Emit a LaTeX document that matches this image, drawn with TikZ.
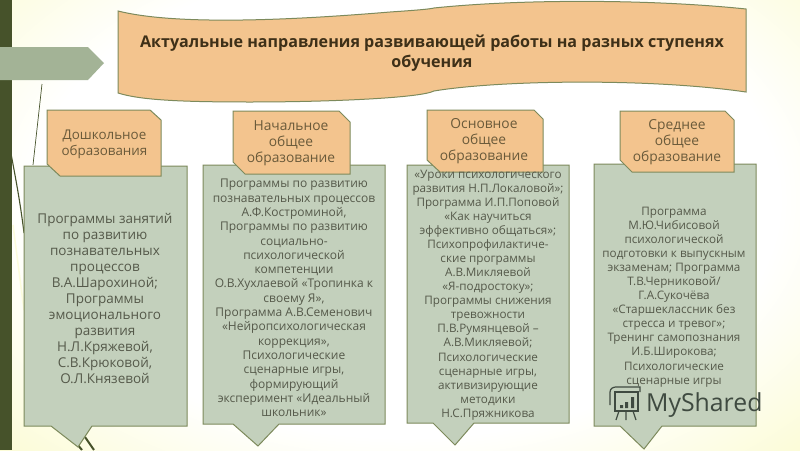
\documentclass[tikz,border=0pt]{standalone}
\usepackage{fontspec}
\setmainfont{Open Sans}
\newfontfamily\wmfont{Open Sans}
\usetikzlibrary{shadings}
\definecolor{stripe}{HTML}{46522A}
\definecolor{peach}{HTML}{F3C48E}
\definecolor{sage}{HTML}{C3D0BC}
\definecolor{edge}{HTML}{7D8A5C}
\definecolor{ink}{HTML}{55594A}
\definecolor{head}{HTML}{6A5A3A}
\definecolor{titlec}{HTML}{3E3018}
\definecolor{bgy}{HTML}{F8F8A8}
\definecolor{arrowg}{HTML}{A3B396}
\definecolor{wmc}{HTML}{3F4A40}
\pgfdeclareradialshading{bgshade}{\pgfpoint{0bp}{0bp}}{color(0bp)=(white);color(22bp)=(white);color(46bp)=(bgy);color(100bp)=(bgy)}
\tikzset{
 x=1pt,y=-1pt,
 tab/.style={draw=edge,line width=1pt,fill=peach},
 panel/.style={draw=edge,line width=1pt,fill=sage},
 tabtext/.style={text=head,font=\fontsize{13.8}{16}\selectfont,align=center,inner sep=0},
 bodytext/.style={text=ink,font=\fontsize{12}{14.3}\selectfont,align=center,inner sep=0},
}
\begin{document}
\begin{tikzpicture}
\useasboundingbox (0,0) rectangle (800,450);
% background
\shade[shading=bgshade] (-20,-70) rectangle (830,470);
\fill[stripe] (0,0) rectangle (12,450);
\draw[stripe,line width=0.7pt] (42,84) -- (33,165);
\draw[stripe,line width=1.1pt] (9,143) .. controls (15,175) and (20,200) .. (24,233);
\draw[white!60!bgy,line width=1.5pt] (13,225) -- (24,310);
\draw[stripe,line width=2pt] (85,437) -- (94,450);
\draw[stripe,line width=2pt] (77,444) -- (82,450);
% left arrow
\fill[arrowg] (0,47) -- (88,47) -- (104,63) -- (88,80) -- (0,80) -- cycle;
% title banner
\draw[tab] (118,11) .. controls (170,24) and (270,22) .. (390,12) .. controls (420,10) and (430,9) .. (434,8)
  .. controls (520,-1) and (650,-1) .. (746,9) -- (746,92)
  .. controls (650,78) and (500,80) .. (434,91) .. controls (420,98) and (330,102) .. (250,102)
  .. controls (180,102) and (140,100) .. (118,93) -- cycle;
\node[text=titlec,font=\bfseries\fontsize{16.1}{20}\selectfont,align=center,inner sep=0] (title) at (432,53)
  {Актуальные направления развивающей работы на разных ступенях\\обучения};
% panels
\draw[panel] (24,166) -- (187,166) -- (187,426) -- (92,426) -- (78,447) -- (51,426) -- (24,426) -- cycle;
\draw[panel] (203,165) -- (385,165) -- (385,424) -- (279,424) -- (258,446) -- (233,424) -- (203,424) -- cycle;
\draw[panel] (407,165) -- (569,165) -- (569,423) -- (474,423) -- (455,445) -- (433,423) -- (407,423) -- cycle;
\draw[panel] (594,164) -- (756,164) -- (756,426) -- (662,426) -- (644,449) -- (620,426) -- (594,426) -- cycle;
% tabs
\draw[tab] (47,110) -- (150,110) -- (161,120) -- (161,176) -- (60,176) -- (47,164) -- cycle;
\draw[tab] (233,111) -- (339,111) -- (350,122) -- (350,174) -- (245,174) -- (233,162) -- cycle;
\draw[tab] (427,110) -- (534,110) -- (543,119) -- (543,172) -- (440,172) -- (427,160) -- cycle;
\draw[tab] (620,111) -- (725,111) -- (734,120) -- (734,172) -- (632,172) -- (620,160) -- cycle;
\node[tabtext,font=\fontsize{13.4}{16}\selectfont] (t1) at (104.5,144.5) {Дошкольное\\образования};
\node[tabtext] (t2) at (291,143.5) {Начальное\\общее\\образование};
\node[tabtext] (t3) at (484,141.5) {Основное\\общее\\образование};
\node[tabtext] (t4) at (677,142.5) {Среднее\\общее\\образование};
% body
\node[bodytext,font=\fontsize{13.5}{16}\selectfont] (b1) at (105,298.5) {Программы занятий\\по развитию\\познавательных\\процессов\\В.А.Шарохиной;\\Программы\\эмоционального\\развития\\Н.Л.Кряжевой,\\С.В.Крюковой,\\О.Л.Князевой};
\node[bodytext] (b2) at (294,298) {Программы по развитию\\познавательных процессов\\А.Ф.Костроминой,\\Программы по развитию\\социально-\\психологической\\компетенции\\О.В.Хухлаевой «Тропинка к\\своему Я»,\\Программа А.В.Семенович\\«Нейропсихологическая\\коррекция»,\\Психологические\\сценарные игры,\\формирующий\\эксперимент «Идеальный\\школьник»};
\node[bodytext,font=\fontsize{11.7}{14.05}\selectfont] (b3) at (488,295) {«Уроки психологического\\развития Н.П.Локаловой»;\\Программа И.П.Поповой\\«Как научиться\\эффективно общаться»;\\Психопрофилактиче-\\ские программы\\А.В.Микляевой\\«Я-подростоку»;\\Программы снижения\\тревожности\\П.В.Румянцевой –\\А.В.Микляевой;\\Психологические\\сценарные игры,\\активизирующие\\методики\\Н.С.Пряжникова};
\node[bodytext,font=\fontsize{11.7}{14.05}\selectfont] (b4) at (674,297) {Программа\\М.Ю.Чибисовой\\психологической\\подготовки к выпускным\\экзаменам; Программа\\Т.В.Черниковой/\\Г.А.Сукочёва\\«Старшеклассник без\\стресса и тревог»;\\Тренинг самопознания\\И.Б.Широкова;\\Психологические\\сценарные игры};
% watermark
\node[text=wmc,font=\wmfont\fontsize{24.8}{25}\selectfont,inner sep=0,anchor=west] (wm) at (646,405) {MyShared};
\draw[wmc,line width=1.8pt] (615,392) rectangle (638,411);
\draw[wmc,line width=1.2pt] (610,405) -- (610,392) .. controls (610,388) and (614,387) .. (616,387) -- (640,387) -- (640,392)
 (619,411) -- (616,420) (633,411) -- (636,420) (626,411) -- (626,420);
\fill[wmc] (620,405) rectangle (623,408) (625,402) rectangle (628,408) (631,397) rectangle (634,408);
\end{tikzpicture}
\end{document}
